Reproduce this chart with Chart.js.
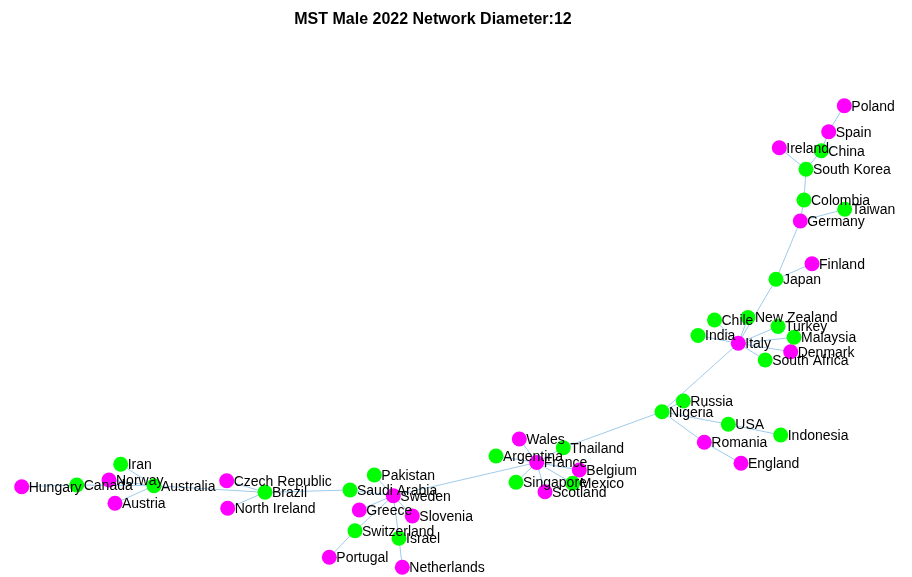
<!DOCTYPE html>
<html>
<head>
<meta charset="utf-8">
<script src="https://cdn.jsdelivr.net/npm/chart.js@4/dist/chart.umd.min.js"></script>
<style>
  html, body { margin: 0; padding: 0; background: #ffffff; }
  #wrap { width: 912px; height: 577px; position: relative; }
</style>
</head>
<body>
<div id="wrap"><canvas id="c" width="912" height="577"></canvas></div>
<script>
// ---- Data: node names, layout coordinates, groups ----
const nodeNames = [
  "Poland","Spain","Ireland","China","South Korea","Colombia","Taiwan","Germany","Finland","Japan",
  "Chile","India","New Zealand","Turkey","Malaysia","Denmark","South Africa","Italy","Russia","Nigeria",
  "USA","Indonesia","Romania","England","Wales","Argentina","Thailand","France","Belgium","Singapore",
  "Scotland","Mexico","Pakistan","Saudi Arabia","Sweden","Greece","Slovenia","Switzerland","Israel","Portugal",
  "Netherlands","Hungary","Canada","Norway","Iran","Australia","Austria","Czech Republic","Brazil","North Ireland"
];
const nodeX = [
  844.3,828.7,779.3,821.3,806.0,804.0,844.7,800.3,812.0,776.0,
  714.5,698.0,748.0,778.0,794.0,790.7,765.2,738.3,683.3,662.0,
  728.3,780.7,704.3,741.0,519.3,496.0,563.3,536.7,579.3,516.0,
  545.0,572.7,374.3,350.0,393.3,359.3,412.3,355.0,399.0,329.3,
  402.3,21.7,76.7,109.0,120.7,154.0,115.0,226.7,265.0,227.7
];
const nodeY = [
  105.7,131.7,147.7,150.7,169.3,200.0,209.3,221.0,263.7,279.3,
  320.0,335.5,317.5,326.5,337.3,351.7,360.0,343.3,401.0,411.7,
  424.3,435.0,442.3,463.3,439.0,456.0,447.7,462.5,470.0,482.3,
  491.7,483.3,475.0,490.0,495.7,510.0,516.0,530.7,538.3,557.3,
  567.3,486.7,485.0,480.0,464.3,485.7,503.3,480.7,492.3,508.3
];
// M = magenta group, G = green group
const nodeGroup = [
  "M","M","M","G","G","G","G","M","M","G",
  "G","G","G","G","G","M","G","M","G","G",
  "G","G","M","M","M","G","G","M","M","G",
  "M","G","G","G","M","M","M","G","G","M",
  "M","M","G","M","G","G","M","M","G","M"
];
// ---- Edges of the minimum spanning tree ----
const edges = [
  ["Poland","Spain"],["Spain","China"],["China","South Korea"],["Ireland","South Korea"],
  ["South Korea","Colombia"],["Colombia","Germany"],["Germany","Taiwan"],["Germany","Japan"],
  ["Finland","Japan"],["Japan","Italy"],["Italy","Chile"],["Italy","India"],["Italy","New Zealand"],
  ["Italy","Turkey"],["Italy","Malaysia"],["Italy","Denmark"],["Italy","South Africa"],
  ["Italy","Nigeria"],["Russia","Nigeria"],["Nigeria","USA"],["USA","Indonesia"],
  ["Nigeria","Romania"],["Romania","England"],["Nigeria","Thailand"],["Thailand","France"],
  ["France","Wales"],["France","Argentina"],["France","Belgium"],["France","Singapore"],
  ["France","Scotland"],["France","Mexico"],["France","Sweden"],["Sweden","Pakistan"],
  ["Sweden","Saudi Arabia"],["Sweden","Greece"],["Sweden","Slovenia"],["Sweden","Switzerland"],
  ["Sweden","Israel"],["Switzerland","Portugal"],["Israel","Netherlands"],["Saudi Arabia","Brazil"],
  ["Brazil","Czech Republic"],["Brazil","North Ireland"],["Brazil","Australia"],
  ["Australia","Iran"],["Australia","Norway"],["Australia","Austria"],["Australia","Canada"],
  ["Canada","Hungary"]
];
const titleText = "MST Male 2022 Network Diameter:12";

// ---- Build datasets ----
const idx = {};
nodeNames.forEach((n, i) => idx[n] = i);
const edgePts = [];
edges.forEach(([a, b]) => {
  edgePts.push({x: nodeX[idx[a]], y: nodeY[idx[a]]});
  edgePts.push({x: nodeX[idx[b]], y: nodeY[idx[b]]});
  edgePts.push({x: null, y: null});
});
const pts = g => nodeNames.map((n, i) => nodeGroup[i] === g ? {x: nodeX[i], y: nodeY[i], label: n} : null).filter(Boolean);

const TITLE_SIZE = 16, TITLE_PAD_TOP = 10, TITLE_PAD_BOTTOM = 4;
const TITLE_H = TITLE_PAD_TOP + TITLE_SIZE * 1.2 + TITLE_PAD_BOTTOM;

const labelPlugin = {
  id: 'nodeLabels',
  afterDatasetsDraw(chart) {
    const ctx = chart.ctx, xs = chart.scales.x, ys = chart.scales.y;
    ctx.save();
    ctx.font = '14px "Liberation Sans", Arial, sans-serif';
    ctx.fillStyle = '#000000';
    ctx.textAlign = 'left';
    ctx.textBaseline = 'middle';
    nodeNames.forEach((n, i) => {
      ctx.fillText(n, xs.getPixelForValue(nodeX[i]) + 7, ys.getPixelForValue(nodeY[i]) + 1);
    });
    ctx.restore();
  }
};

new Chart(document.getElementById('c'), {
  type: 'scatter',
  data: {
    datasets: [
      { label: 'edges', data: edgePts, showLine: true, spanGaps: false, borderColor: '#9fcbea',
        borderWidth: 1, pointRadius: 0, clip: false, order: 3 },
      { label: 'M', data: pts('M'), backgroundColor: '#ff00ff', borderWidth: 0, pointRadius: 7.5,
        pointHoverRadius: 7.5, clip: false, order: 2 },
      { label: 'G', data: pts('G'), backgroundColor: '#00ff00', borderWidth: 0, pointRadius: 7.5,
        pointHoverRadius: 7.5, clip: false, order: 1 }
    ]
  },
  options: {
    responsive: false,
    animation: false,
    events: [],
    layout: { autoPadding: false, padding: { left: 0, right: 46, top: 0, bottom: 0 } },
    scales: {
      x: { type: 'linear', display: false, min: 0, max: 866 },
      y: { type: 'linear', display: false, reverse: true, min: TITLE_H, max: 577 }
    },
    plugins: {
      legend: { display: false },
      tooltip: { enabled: false },
      title: { display: true, text: titleText, color: '#000000',
        font: { family: '"Liberation Sans", Arial, sans-serif', size: TITLE_SIZE, weight: 'bold' },
        padding: { top: TITLE_PAD_TOP, bottom: TITLE_PAD_BOTTOM } }
    }
  },
  plugins: [labelPlugin]
});
</script>
</body>
</html>
